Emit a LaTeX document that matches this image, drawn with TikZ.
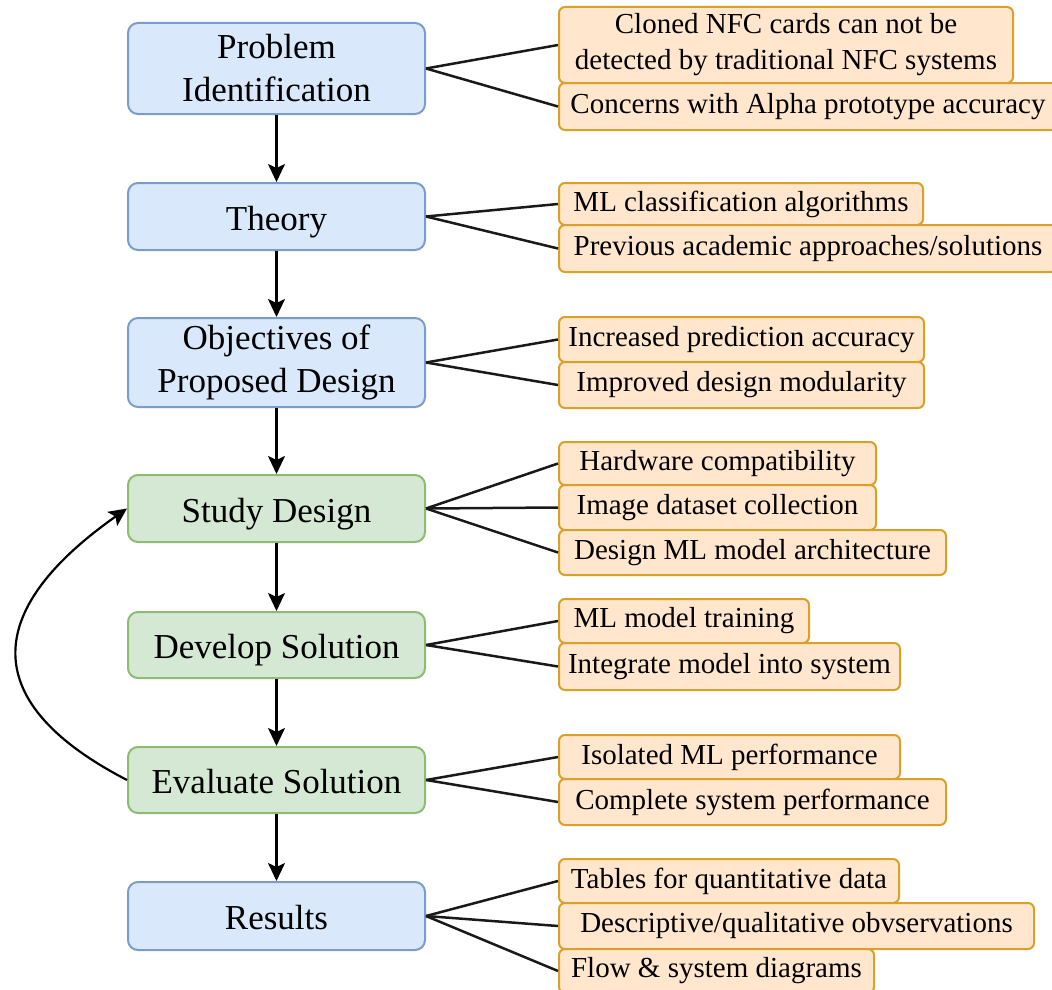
\documentclass[tikz,border=0pt]{standalone}
\usepackage{fontspec}
\setmainfont{Liberation Serif}
\usetikzlibrary{arrows.meta}
\definecolor{bfill}{HTML}{DAE8FC}
\definecolor{bdraw}{HTML}{7A9CCB}
\definecolor{gfill}{HTML}{D5E8D4}
\definecolor{gdraw}{HTML}{8DBB74}
\definecolor{ofill}{HTML}{FFE6CC}
\definecolor{odraw}{HTML}{D9A02A}
\begin{document}
\begin{tikzpicture}[x=1pt,y=-1pt,
  mainbox/.style={line width=2pt, rounded corners=10pt, minimum width=297pt, inner sep=0pt, align=center, font=\fontsize{35pt}{43pt}\selectfont},
  oneline/.style={text height=27pt, text depth=0pt},
  bluebox/.style={mainbox, draw=bdraw, fill=bfill},
  greenbox/.style={mainbox, draw=gdraw, fill=gfill},
  notebox/.style={draw=odraw, fill=ofill, line width=2pt, rounded corners=6pt, anchor=west, inner sep=0pt, align=center, font=\fontsize{29pt}{36pt}\selectfont},
  link/.style={line width=2.5pt, black!90},
  flow/.style={line width=2.2pt, black, -{Stealth[length=18pt,width=17pt,inset=4pt]}}
]
\useasboundingbox (0,0) rectangle (1052,990);
\clip (0,0) rectangle (1052,990);

% main column
\node[bluebox, minimum height=91pt] (pi) at (276.5,68.5) {Problem\\Identification};
\node[bluebox, oneline, minimum height=67pt] (th) at (276.5,216.5) {Theory};
\node[bluebox, minimum height=89pt] (ob) at (276.5,362.5) {Objectives of\\Proposed Design};
\node[greenbox, oneline, minimum height=67pt] (sd) at (276.5,508.5) {Study Design};
\node[greenbox, oneline, minimum height=66pt] (ds) at (276.5,645) {Develop Solution};
\node[greenbox, oneline, minimum height=66pt] (es) at (276.5,780) {Evaluate Solution};
\node[bluebox, oneline, minimum height=68pt] (rs) at (276.5,916) {Results};

% notes
\node[notebox, minimum width=454pt, minimum height=76pt] (o1) at (558,45) {Cloned NFC cards can not be\\detected by traditional NFC systems};
\node[notebox, minimum width=498pt, minimum height=47pt] (o2) at (558,106.5) {Concerns with Alpha prototype accuracy};
\node[notebox, minimum width=364pt, minimum height=42pt] (o3) at (558,204) {ML classification algorithms};
\node[notebox, minimum width=498pt, minimum height=47pt] (o4) at (558,248.5) {Previous academic approaches/solutions};
\node[notebox, minimum width=365pt, minimum height=45pt] (o5) at (558,339.5) {Increased prediction accuracy};
\node[notebox, minimum width=365pt, minimum height=46pt] (o6) at (558,385) {Improved design modularity};
\node[notebox, minimum width=317pt, minimum height=43pt] (o7) at (558,463.5) {Hardware compatibility};
\node[notebox, minimum width=317pt, minimum height=45pt] (o8) at (558,507.5) {Image dataset collection};
\node[notebox, minimum width=387pt, minimum height=45pt] (o9) at (558,552.5) {Design ML model architecture};
\node[notebox, minimum width=250pt, minimum height=44pt] (o10) at (558,621) {ML model training};
\node[notebox, minimum width=341pt, minimum height=47pt] (o11) at (558,666.5) {Integrate model into system};
\node[notebox, minimum width=341pt, minimum height=44pt] (o12) at (558,757) {Isolated ML performance};
\node[notebox, minimum width=387pt, minimum height=46pt] (o13) at (558,802) {Complete system performance};
\node[notebox, minimum width=340pt, minimum height=44pt] (o14) at (558,881) {Tables for quantitative data};
\node[notebox, minimum width=475pt, minimum height=46pt] (o15) at (558,926) {Descriptive/qualitative obvservations};
\node[notebox, minimum width=315pt, minimum height=44pt] (o16) at (558,971) {Flow \& system diagrams};

% connectors to notes
\foreach \a/\b in {pi/o1,pi/o2,th/o3,th/o4,ob/o5,ob/o6,sd/o7,sd/o8,sd/o9,ds/o10,ds/o11,es/o12,es/o13,rs/o14,rs/o15,rs/o16}
  \draw[link] (\a.east) -- (\b.west);

% flow arrows
\draw[flow] (pi.south) -- (th.north);
\draw[flow] (th.south) -- (ob.north);
\draw[flow] (ob.south) -- (sd.north);
\draw[flow] (sd.south) -- (ds.north);
\draw[flow] (ds.south) -- (es.north);
\draw[flow] (es.south) -- (rs.north);
\draw[flow] (es.west) .. controls (-20,704) and (-20,612) .. (sd.west);
\end{tikzpicture}
\end{document}
